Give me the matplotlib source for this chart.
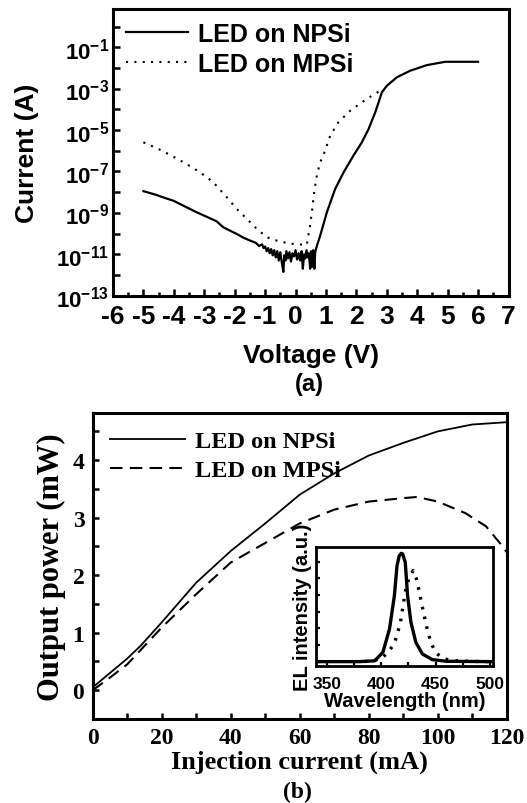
import matplotlib
matplotlib.use("Agg")
import matplotlib.pyplot as plt
from matplotlib.ticker import FixedLocator, FuncFormatter, MultipleLocator
import numpy as np

# (a) I-V curves, voltage in V, log10 of current in A
npsi_v = [-5.0, -4.6, -4.35, -4.0, -3.69, -3.25, -2.81, -2.6, -2.37, -2.15, -1.93, -1.71,
          -1.49, -1.3, -1.2, -1.1, -1.05, -1.0, -0.95, -0.9, -0.85, -0.8, -0.75, -0.7,
          -0.65, -0.6, -0.55, -0.5, -0.45, -0.4, -0.37, -0.33, -0.3, -0.25, -0.2, -0.15,
          -0.1, -0.05, 0.0, 0.05, 0.1, 0.15, 0.2, 0.24, 0.28, 0.32, 0.36, 0.4, 0.44,
          0.48, 0.51, 0.55, 0.58, 0.62, 0.645, 0.7, 0.81, 1.03, 1.3, 1.58, 1.9, 2.18,
          2.4, 2.62, 2.84, 3.0, 3.33, 3.77, 4.32, 4.92, 6.0]
npsi_logi = [-7.95, -8.12, -8.25, -8.42, -8.65, -8.97, -9.26, -9.4, -9.7, -9.86, -10.02, -10.2,
             -10.34, -10.45, -10.6, -10.52, -10.7, -10.62, -10.85, -10.7, -10.95, -10.75, -11.05, -10.8,
             -11.15, -10.85, -11.3, -10.9, -11.4, -11.85, -11.05, -11.3, -10.85, -11.2, -10.9, -11.35,
             -10.95, -11.1, -10.8, -11.25, -10.95, -11.3, -10.85, -11.7, -11.0, -11.2, -10.8, -11.15, -10.95,
             -11.7, -10.85, -11.6, -10.8, -11.7, -10.9, -10.6, -10.1, -8.97, -7.85, -7.04, -6.24, -5.59,
             -4.95, -4.14, -3.17, -2.86, -2.45, -2.13, -1.86, -1.7, -1.7]

mpsi_v = [-5.0, -4.51, -4.07, -3.58, -3.14, -2.7, -2.26, -1.93, -1.6, -1.27, -0.94, -0.51,
          -0.07, 0.37, 0.42, 0.48, 0.55, 0.62, 0.7, 0.8, 0.95, 1.14, 1.41, 1.8, 2.18, 2.51, 2.78]
mpsi_logi = [-5.59, -5.91, -6.24, -6.64, -7.04, -7.52, -8.25, -8.81, -9.29, -9.78, -10.18, -10.39,
             -10.5, -10.55, -10.1, -9.6, -8.8, -7.9, -7.2, -6.6, -6.07, -5.27, -4.62, -4.06, -3.66, -3.34, -3.1]

# (b) L-I curves, current in mA, output power in mW
li_npsi_ma = [0, 5, 10, 14, 20, 30, 40, 50, 60, 70, 80, 90, 100, 110, 120]
li_npsi_mw = [0.05, 0.3, 0.55, 0.78, 1.18, 1.87, 2.42, 2.9, 3.4, 3.77, 4.08, 4.3, 4.5, 4.62, 4.66]
li_mpsi_ma = [0, 5, 10, 20, 30, 40, 50, 60, 70, 80, 90, 94, 100, 108, 114, 118, 120]
li_mpsi_mw = [0.0, 0.22, 0.45, 1.09, 1.67, 2.22, 2.56, 2.9, 3.14, 3.28, 3.34, 3.36, 3.28, 3.08, 2.85, 2.56, 2.4]

# inset EL spectra, wavelength in nm, intensity in arbitrary units
el_npsi_nm = [340, 380, 394, 401.5, 407.6, 412.1, 414.5, 416.6, 418.5, 419.7, 422.1, 424.2,
              427.3, 431.8, 437.8, 446.9, 460, 502]
el_npsi_int = [0.0, 0.0, 0.05, 0.56, 1.96, 3.96, 5.76, 6.36, 6.5, 6.46, 5.96, 3.96,
               2.36, 1.16, 0.46, 0.12, 0.02, 0.0]
el_mpsi_nm = [385, 400, 406, 412, 416, 418.2, 420.3, 422.7, 425.7, 429.4, 432.4, 435.4,
              438.5, 441.5, 445.5, 450, 456, 465, 480, 500]
el_mpsi_int = [0.0, 0.16, 0.56, 1.06, 1.96, 2.56, 3.46, 4.36, 5.06, 5.46, 4.96, 4.06,
               3.06, 2.16, 1.16, 0.56, 0.2, 0.06, 0.02, 0.0]

plt.rcParams["axes.unicode_minus"] = False
plt.rcParams["mathtext.fontset"] = "custom"
plt.rcParams["mathtext.rm"] = "Liberation Sans:bold"
plt.rcParams["mathtext.bf"] = "Liberation Sans:bold"
plt.rcParams["mathtext.it"] = "Liberation Sans:bold"

SANS = "Liberation Sans"
SERIF = "Liberation Serif"
W, H = 527, 804

fig = plt.figure(figsize=(W / 100, H / 100), dpi=100)


def rect(x0, y0, x1, y1):
    return [x0 / W, 1 - y1 / H, (x1 - x0) / W, (y1 - y0) / H]


# ---- panel (a)
ax1 = fig.add_axes(rect(113, 10, 508.5, 296.7))
ax1.set_yscale("log")
ax1.plot(npsi_v, 10.0 ** np.array(npsi_logi), color="black", lw=1.6, label="LED on NPSi")
ax1.plot(mpsi_v, 10.0 ** np.array(mpsi_logi), color="black", lw=1.5,
         linestyle=(0, (1, 3)), label="LED on MPSi")
ax1.set_xlim(-6, 7)
ax1.set_ylim(1e-13, 10 ** 0.85)
ax1.xaxis.set_major_locator(MultipleLocator(1))
ax1.xaxis.set_minor_locator(MultipleLocator(0.5))
ax1.yaxis.set_major_locator(FixedLocator([10.0 ** e for e in range(-13, 1)]))
ax1.yaxis.set_minor_locator(FixedLocator([]))
ax1.yaxis.set_major_formatter(FuncFormatter(
    lambda v, pos: r"$10^{%d}$" % round(np.log10(v)) if round(np.log10(v)) % 2 else ""))
ax1.tick_params(which="both", direction="in", width=1.8, top=False, right=False)
ax1.tick_params(which="major", length=5)
ax1.tick_params(which="minor", length=3)
ax1.tick_params(axis="y", labelsize=16, pad=3)
ax1.tick_params(axis="x", labelsize=19, pad=6)
for lab in ax1.get_xticklabels():
    lab.set_family(SANS)
    lab.set_fontweight("bold")
for sp in ax1.spines.values():
    sp.set_linewidth(2.2)
ax1.set_xlabel("Voltage (V)", fontsize=19, fontweight="bold", family=SANS, labelpad=11)
ax1.set_ylabel("Current (A)", fontsize=19, fontweight="bold", family=SANS, labelpad=12)
ax1.legend(loc="upper left", frameon=False, handlelength=2.5, handletextpad=0.4,
           borderaxespad=0.1, labelspacing=0.25,
           prop={"family": SANS, "weight": "bold", "size": 18})
fig.text(309 / W, 1 - 385 / H, "(a)", ha="center", va="center",
         fontsize=17, fontweight="bold", family=SANS)

# ---- panel (b)
ax2 = fig.add_axes(rect(92.7, 414, 506.7, 720))
ax2.plot(li_npsi_ma, li_npsi_mw, color="black", lw=1.3, label="LED on NPSi")
ax2.plot(li_mpsi_ma, li_mpsi_mw, color="black", lw=1.5, dashes=(6, 3.5), label="LED on MPSi")
ax2.set_xlim(0, 120)
ax2.set_ylim(-0.5, 4.82)
ax2.xaxis.set_major_locator(MultipleLocator(20))
ax2.xaxis.set_minor_locator(MultipleLocator(10))
ax2.yaxis.set_major_locator(FixedLocator([0, 1, 2, 3, 4]))
ax2.yaxis.set_minor_locator(MultipleLocator(0.5))
ax2.tick_params(which="both", direction="in", width=1.8, length=4, top=False, right=False,
                labelsize=17, pad=6)
for lab in ax2.get_xticklabels() + ax2.get_yticklabels():
    lab.set_family(SERIF)
    lab.set_fontweight("bold")
for sp in ax2.spines.values():
    sp.set_linewidth(2.2)
ax2.set_xlabel("Injection current (mA)", fontsize=19, fontweight="bold", family=SERIF, labelpad=1)
ax2.set_ylabel("Output power (mW)", fontsize=22, fontweight="bold", family=SERIF, labelpad=5)
ax2.legend(loc="upper left", frameon=False, handlelength=3.1, handletextpad=0.4,
           borderaxespad=0.3, labelspacing=0.3,
           prop={"family": SERIF, "weight": "bold", "size": 17.5})
fig.text(297.5 / W, 1 - 792 / H, "(b)", ha="center", va="center",
         fontsize=17, fontweight="bold", family=SERIF)

# ---- inset EL spectra
ax3 = fig.add_axes(rect(316, 548.3, 492.7, 667.3))
ax3.plot(el_npsi_nm, el_npsi_int, color="black", lw=2.4)
ax3.plot(el_mpsi_nm, el_mpsi_int, color="black", lw=2.4, linestyle=(0, (0.8, 2.2)))
ax3.set_xlim(340, 502.5)
ax3.set_ylim(-0.28, 6.86)
ax3.xaxis.set_major_locator(MultipleLocator(50))
ax3.xaxis.set_minor_locator(MultipleLocator(25))
ax3.yaxis.set_major_locator(MultipleLocator(1))
ax3.tick_params(which="both", direction="in", width=1.6, length=3, top=False, right=False,
                labelsize=12.5, pad=7)
ax3.tick_params(axis="y", labelleft=False)
for lab in ax3.get_xticklabels():
    lab.set_family(SANS)
    lab.set_fontweight("bold")
for sp in ax3.spines.values():
    sp.set_linewidth(2.0)
ax3.set_xlabel("Wavelength (nm)", fontsize=14.5, fontweight="bold", family=SANS, labelpad=0)
ax3.set_ylabel("EL intensity (a.u.)", fontsize=14.5, fontweight="bold", family=SANS, labelpad=3)

fig.savefig("out.png", dpi=100)
